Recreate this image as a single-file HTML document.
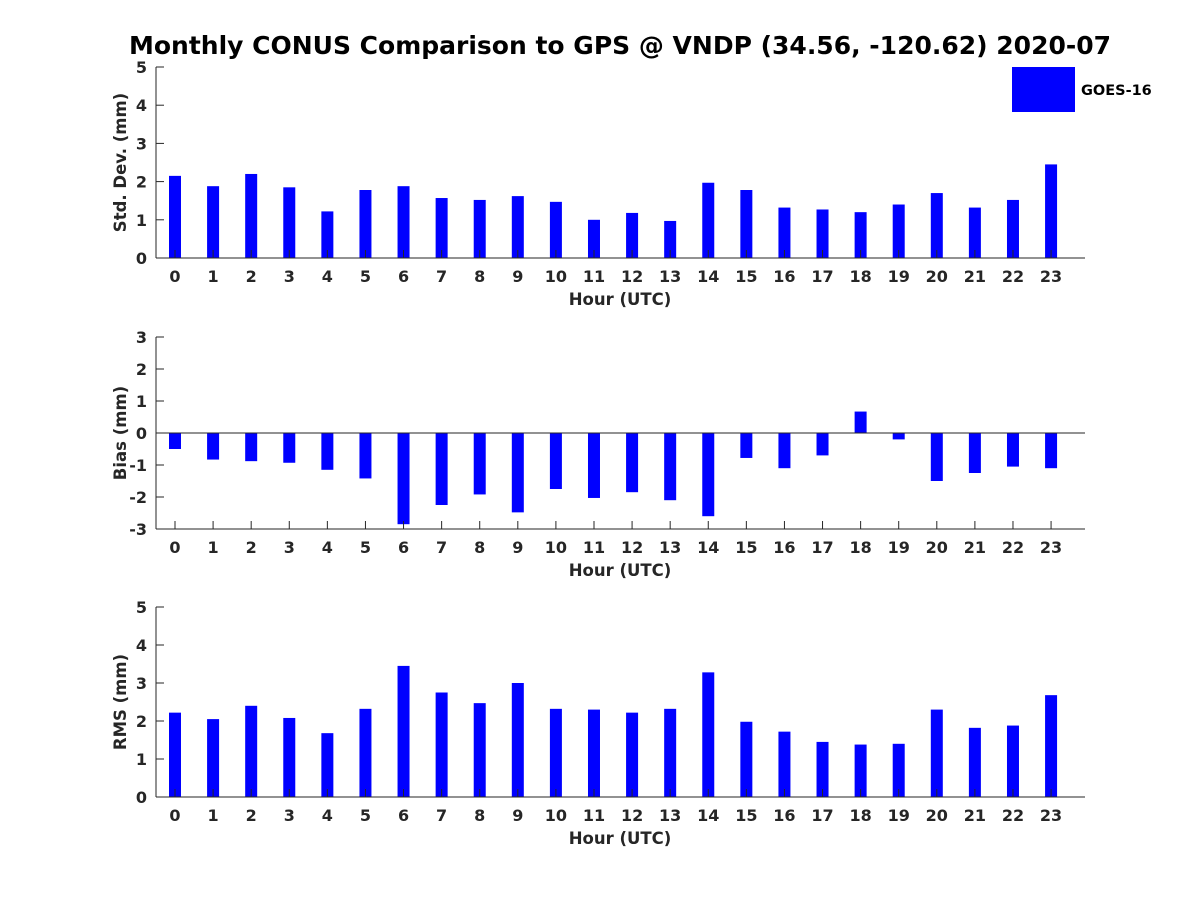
<!DOCTYPE html>
<html><head><meta charset="utf-8"><style>
body{margin:0;background:#fff;}
svg text{font-family:"DejaVu Sans","Liberation Sans",sans-serif;font-weight:bold;fill:#262626;}
</style></head><body>
<svg id="c" width="1200" height="900" xmlns="http://www.w3.org/2000/svg">
<text x="620" y="54" text-anchor="middle" font-size="25" style="fill:#000">Monthly CONUS Comparison to GPS @ VNDP (34.56, -120.62) 2020-07</text>
<rect x="1012" y="67" width="63" height="45" fill="#0000ff"/>
<text x="1081" y="95" font-size="14.5" style="fill:#000">GOES-16</text>
</svg>
<script>
const hours=[0,1,2,3,4,5,6,7,8,9,10,11,12,13,14,15,16,17,18,19,20,21,22,23];
const stdVals=[2.15,1.88,2.2,1.85,1.22,1.78,1.88,1.57,1.52,1.62,1.47,1.0,1.18,0.97,1.97,1.78,1.32,1.27,1.2,1.4,1.7,1.32,1.52,2.45];
const biasVals=[-0.5,-0.83,-0.88,-0.93,-1.15,-1.42,-2.85,-2.25,-1.92,-2.48,-1.75,-2.03,-1.85,-2.1,-2.6,-0.78,-1.1,-0.7,0.67,-0.2,-1.5,-1.25,-1.05,-1.1];
const rmsVals=[2.22,2.05,2.4,2.08,1.68,2.32,3.45,2.75,2.47,3.0,2.32,2.3,2.22,2.32,3.28,1.98,1.72,1.45,1.38,1.4,2.3,1.82,1.88,2.68];
const stdTicks=[0,1,2,3,4,5];
const biasTicks=[-3,-2,-1,0,1,2,3];
const rmsTicks=[0,1,2,3,4,5];
const svg=document.getElementById('c');
const NS='http://www.w3.org/2000/svg';
function mk(tag,attrs,parent){const e=document.createElementNS(NS,tag);for(const k in attrs)e.setAttribute(k,attrs[k]);(parent||svg).appendChild(e);return e;}
const L=156,R=1085;
function xs(h){return 175+h*38.09;}
function panel(name,vals,ticks,top,bot,ylabel){
  const g=mk('g',{});
  
  
  const mn=ticks[0],mx=ticks[ticks.length-1];
  const ys=v=>bot-(v-mn)/(mx-mn)*(bot-top);
  vals.forEach((v,i)=>{
    const y0=ys(Math.max(0,mn)),y1=ys(v);
    const r=mk('rect',{x:xs(hours[i])-6,y:Math.min(y0,y1),width:12,height:Math.abs(y1-y0),fill:'#0000ff'},g);
    
    
  });
  if(mn<0){const z=mk('line',{x1:L,x2:R,y1:ys(0),y2:ys(0),stroke:'#262626','stroke-width':1},g);
    }
  const ya=mk('line',{x1:L,x2:L,y1:top,y2:bot,stroke:'#262626'},g);
  
  const xa=mk('line',{x1:L,x2:R,y1:bot,y2:bot,stroke:'#262626'},g);
  
  ticks.forEach(t=>{
    mk('line',{x1:L,x2:L+8,y1:ys(t),y2:ys(t),stroke:'#262626'},g);
    const tx=mk('text',{x:L-9,y:ys(t)+6,'text-anchor':'end','font-size':16},g);tx.textContent=t;
    
  });
  hours.forEach(h=>{
    mk('line',{x1:xs(h),x2:xs(h),y1:bot,y2:bot-8,stroke:'#262626'},g);
    const tx=mk('text',{x:xs(h),y:bot+24,'text-anchor':'middle','font-size':16},g);tx.textContent=h;
    
  });
  const xl=mk('text',{x:620,y:bot+47,'text-anchor':'middle','font-size':16.5},g);xl.textContent='Hour (UTC)';
  
  const cy=(top+bot)/2;
  const yl=mk('text',{x:126,y:cy,'text-anchor':'middle','font-size':16.5,transform:'rotate(-90 126 '+cy+')'},g);yl.textContent=ylabel;
  
}
panel('std-dev',stdVals,stdTicks,67,258,'Std. Dev. (mm)');
panel('bias',biasVals,biasTicks,337,529,'Bias (mm)');
panel('rms',rmsVals,rmsTicks,607,797,'RMS (mm)');
</script>
</body></html>
